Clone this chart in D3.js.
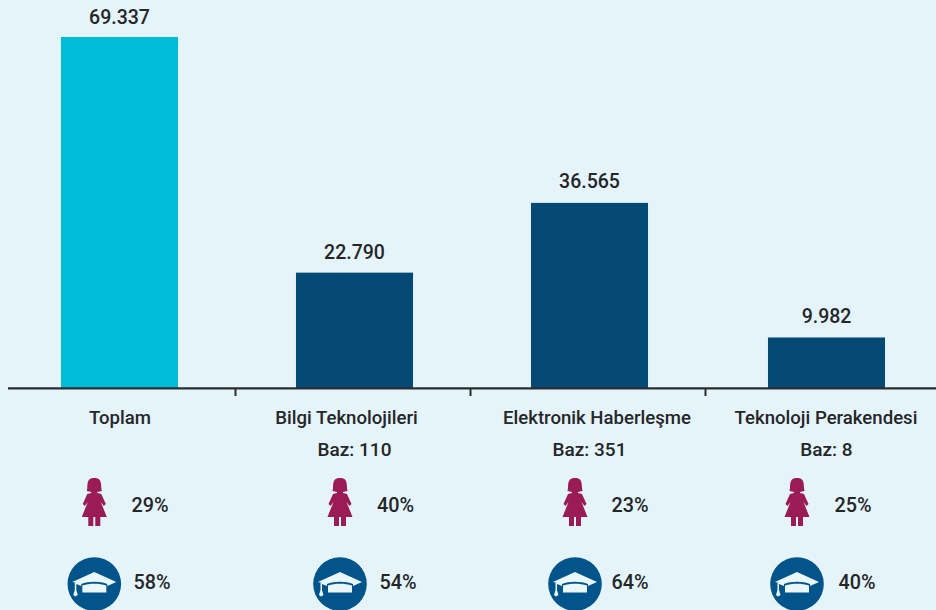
<!DOCTYPE html>
<html><head><meta charset="utf-8">
<script src="https://cdn.jsdelivr.net/npm/d3@7/dist/d3.min.js"></script>
<style>html,body{margin:0;padding:0;background:#e4f4f8}svg{display:block}text{font-family:Roboto,sans-serif;font-weight:500;fill:#262629}</style>
</head><body><svg id="c" width="936" height="610"></svg>
<script>
const categories=["Toplam","Bilgi Teknolojileri","Elektronik Haberleşme","Teknoloji Perakendesi"];
const baseLabels=["","Baz: 110","Baz: 351","Baz: 8"];
const values=[69337,22790,36565,9982];
const valueLabels=["69.337","22.790","36.565","9.982"];
const womenPct=["29%","40%","23%","25%"];
const gradPct=["58%","54%","64%","40%"];
const barColors=["#00bcd6","#054a75","#054a75","#054a75"];
const svg=d3.select("#c");
const x=d3.scaleBand().domain(categories).range([2,942]).paddingInner(0.502).paddingOuter(0.251);
const nudge=[0,0,0,2];
const catNudge=[0.5,-8,7.5,-0.5];
const labelGap=[13.5,13.6,15,14.5];
const y=d3.scaleLinear().domain([0,69337]).range([388,37]);
const cx=i=>x(categories[i])+x.bandwidth()/2+nudge[i];
svg.selectAll("rect.bar").data(values).join("rect").attr("class","bar")
 .attr("x",(d,i)=>x(categories[i])+nudge[i]).attr("width",x.bandwidth())
 .attr("y",d=>y(d)).attr("height",d=>y(0)-y(d)).attr("fill",(d,i)=>barColors[i]);
svg.append("line").attr("x1",8).attr("x2",936).attr("y1",388.3).attr("y2",388.3).attr("stroke","#2a2c30").attr("stroke-width",2.2);
svg.selectAll("line.t").data(categories.slice(1)).join("line").attr("class","t")
 .attr("x1",d=>x(d)-x.step()*0.251-1.5).attr("x2",d=>x(d)-x.step()*0.251-1.5).attr("y1",388).attr("y2",396).attr("stroke","#2a2c30").attr("stroke-width",2);
svg.selectAll("text.v").data(valueLabels).join("text").attr("class","v").attr("x",(d,i)=>cx(i)).attr("y",(d,i)=>y(values[i])-labelGap[i])
 .attr("text-anchor","middle").attr("font-size",19.5).text(d=>d);
svg.selectAll("text.c").data(categories).join("text").attr("class","c").attr("x",(d,i)=>cx(i)+catNudge[i]-nudge[i]*(i==3?1:0)+(i==3?2:0)).attr("y",424)
 .attr("text-anchor","middle").attr("font-size",18.6).text(d=>d);
svg.selectAll("text.b").data(baseLabels).join("text").attr("class","b").attr("x",(d,i)=>cx(i)).attr("y",456)
 .attr("text-anchor","middle").attr("font-size",19).text(d=>d);
const iconX=[94.3,340,575,797], womanTextX=[150,395.5,630,853], gradTextX=[152,398,630,857];
const woman=svg.selectAll("g.w").data(womenPct).join("g").attr("class","w").attr("transform",(d,i)=>`translate(${iconX[i]},478)`);
woman.append("path").attr("fill","#9a1b56").attr("d","M-7,10C-7,2 -5,0 0,0C5,0 7,2 7,10L7.5,13L3,14L3,15L7,16L11.5,26L9.5,28L6.5,24L12.5,39L6,39L6,48L1,48L1,39L-1,39L-1,48L-6,48L-6,39L-12.5,39L-6.5,24L-9.5,28L-11.5,26L-7,16L-3,15L-3,14L-7.5,13Z");
svg.selectAll("text.wp").data(womenPct).join("text").attr("class","wp").attr("x",(d,i)=>womanTextX[i]).attr("y",511.5).attr("text-anchor","middle").attr("font-size",19.8).text(d=>d);
const g=svg.selectAll("g.g").data(gradPct).join("g").attr("class","g").attr("transform",(d,i)=>`translate(${iconX[i]},584)`);
g.append("circle").attr("r",26.8).attr("fill","#04548c");
g.append("path").attr("fill","#e9f6fa").attr("d","M-22,-2L0,-12L22,-2L13,2L13,0C6,-3 -6,-3 -13,0L-13,2L-18,0L-18,-1Z M-12,1.5C-5,-1 5,-1 12,1.5L12,8.5L-12,8.5Z M-19.5,-1L-18,-1L-18,6L-16.5,11L-19,12.5L-21,11L-19.5,6Z");
svg.selectAll("text.gp").data(gradPct).join("text").attr("class","gp").attr("x",(d,i)=>gradTextX[i]).attr("y",589).attr("text-anchor","middle").attr("font-size",19.8).text(d=>d);
</script></body></html>
